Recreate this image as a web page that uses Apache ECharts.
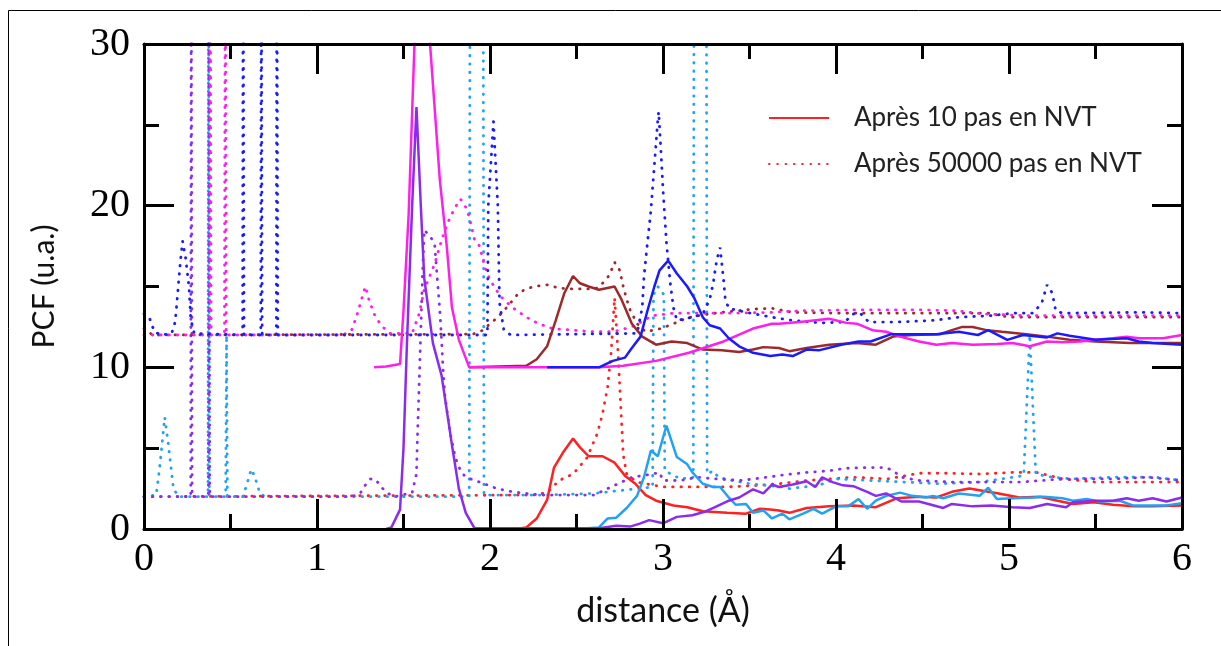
<!DOCTYPE html>
<html>
<head>
<meta charset="UTF-8">
<title>PCF</title>
<script type="text/javascript" src="https://cdn.jsdelivr.net/npm/echarts@6.0.0/dist/echarts.min.js"></script>
<style>
  html, body { margin: 0; padding: 0; background: #fff; }
  #main { width: 1221px; height: 646px; }
</style>
</head>
<body>
<div id="main"></div>
<script type="text/javascript">
// axes
var xTicks = [0, 1, 2, 3, 4, 5, 6];
var yTicks = [0, 10, 20, 30];
var legendNames = ['Après 10 pas en NVT', 'Après 50000 pas en NVT'];

// bas : apres 10 pas (traits pleins)
var red10 = [[2.15,0],[2.21,0.1],[2.27,0.65],[2.33,1.8],[2.37,3.8],[2.42,4.7],[2.48,5.6],[2.52,5.05],[2.57,4.5],[2.65,4.5],[2.72,4.1],[2.78,3.3],[2.84,2.8],[2.9,2.1],[2.96,1.75],[3.06,1.45],[3.14,1.35],[3.23,1.1],[3.37,1.0],[3.48,0.95],[3.56,1.25],[3.62,1.2],[3.67,1.15],[3.73,1.0],[3.83,1.3],[3.96,1.4],[4.1,1.45],[4.23,1.35],[4.35,1.9],[4.48,2.0],[4.58,1.95],[4.67,2.3],[4.77,2.5],[4.83,2.4],[4.94,2.2],[5.06,1.95],[5.18,2.0],[5.28,1.75],[5.37,1.55],[5.49,1.65],[5.6,1.5],[5.72,1.4],[5.83,1.4],[6,1.45]];
var cyan10 = [[2.5,0],[2.63,0.1],[2.68,0.65],[2.73,0.7],[2.79,1.3],[2.85,2.05],[2.89,3.2],[2.93,4.85],[2.97,4.5],[3.02,6.4],[3.08,4.45],[3.14,4.0],[3.17,3.5],[3.23,2.8],[3.29,2.6],[3.33,2.6],[3.38,1.95],[3.42,1.5],[3.48,1.55],[3.52,1.0],[3.58,1.15],[3.63,0.65],[3.69,0.95],[3.73,0.6],[3.81,0.95],[3.87,1.25],[3.92,0.95],[4.0,1.4],[4.07,1.4],[4.13,1.85],[4.18,1.25],[4.23,1.75],[4.29,2.05],[4.37,2.25],[4.44,2.05],[4.52,1.95],[4.56,2.05],[4.62,1.9],[4.71,2.2],[4.83,2.05],[4.88,2.55],[4.93,1.85],[5.02,1.9],[5.14,1.95],[5.2,2.0],[5.31,1.9],[5.37,1.75],[5.45,1.85],[5.52,1.7],[5.64,1.75],[5.72,1.45],[5.83,1.45],[5.91,1.45],[6,1.6]];
var violet10 = [[1.4,0],[1.43,0.1],[1.48,1.2],[1.5,5],[1.52,11.5],[1.55,20],[1.575,26.1],[1.6,20],[1.62,15.5],[1.67,11.5],[1.72,9.5],[1.78,5.2],[1.82,2.5],[1.86,1.0],[1.91,0.05],[2.63,0.05],[2.73,0.2],[2.81,0.15],[2.87,0.35],[2.92,0.55],[3.0,0.35],[3.08,0.75],[3.17,0.85],[3.25,1.1],[3.31,1.4],[3.38,1.75],[3.44,1.95],[3.52,2.45],[3.58,2.2],[3.63,2.75],[3.67,2.6],[3.75,2.75],[3.83,2.95],[3.88,2.6],[3.92,3.2],[3.98,2.9],[4.04,2.7],[4.1,2.65],[4.18,2.3],[4.23,2.05],[4.29,2.2],[4.38,1.7],[4.48,1.7],[4.62,1.3],[4.67,1.55],[4.79,1.4],[4.9,1.45],[5.02,1.35],[5.12,1.3],[5.22,1.55],[5.33,1.35],[5.37,1.65],[5.49,1.75],[5.6,1.75],[5.68,1.9],[5.75,1.75],[5.83,1.9],[5.91,1.7],[6,1.95]];

// haut : apres 10 pas (traits pleins, decales de 10)
var brown10 = [[1.88,10],[2.21,10.1],[2.27,10.5],[2.33,11.3],[2.38,12.9],[2.43,14.6],[2.48,15.65],[2.52,15.2],[2.57,15.0],[2.63,14.8],[2.72,15.0],[2.76,14.2],[2.82,12.7],[2.88,11.9],[2.96,11.4],[3.05,11.6],[3.14,11.5],[3.23,11.1],[3.34,11.05],[3.44,10.95],[3.52,11.1],[3.58,11.25],[3.67,11.2],[3.73,11.0],[3.83,11.2],[3.96,11.4],[4.12,11.5],[4.23,11.4],[4.33,11.9],[4.44,12.0],[4.6,12.05],[4.67,12.3],[4.73,12.5],[4.79,12.5],[4.87,12.3],[4.96,12.2],[5.1,12.05],[5.22,11.9],[5.35,11.7],[5.5,11.6],[5.7,11.5],[5.83,11.5],[6,11.5]];
var magenta10 = [[1.33,10],[1.4,10.05],[1.48,10.2],[1.5,13.5],[1.53,19.5],[1.565,30.5],[1.6,35],[1.65,30.5],[1.71,21.6],[1.75,17.5],[1.78,13.7],[1.82,11.7],[1.88,10],[2.2,10],[2.4,10],[2.63,10],[2.77,10.1],[2.96,10.4],[3.15,10.9],[3.35,11.6],[3.52,12.4],[3.63,12.7],[3.67,12.7],[3.79,12.8],[3.96,13.0],[4.06,12.75],[4.12,12.7],[4.21,12.3],[4.29,12.2],[4.37,11.9],[4.48,11.6],[4.58,11.4],[4.67,11.5],[4.79,11.4],[4.93,11.45],[5.02,11.5],[5.12,11.3],[5.22,11.6],[5.31,11.55],[5.41,11.6],[5.5,11.7],[5.6,11.8],[5.68,11.9],[5.75,11.8],[5.89,11.8],[6,12.0]];
var blue10 = [[2.33,10],[2.63,10.0],[2.71,10.4],[2.78,10.6],[2.82,11.2],[2.87,11.9],[2.91,13.5],[2.95,15.0],[2.98,16.0],[3.03,16.6],[3.08,15.8],[3.14,15.0],[3.18,14.3],[3.23,13.1],[3.27,12.6],[3.33,12.4],[3.38,11.8],[3.44,11.3],[3.52,10.9],[3.62,10.7],[3.69,10.8],[3.75,10.7],[3.83,11.1],[3.9,11.05],[4.03,11.4],[4.13,11.6],[4.2,11.6],[4.32,12.05],[4.45,12.05],[4.58,12.05],[4.71,12.2],[4.82,12.0],[4.88,12.3],[4.99,11.7],[5.08,12.0],[5.22,11.85],[5.28,12.1],[5.35,11.95],[5.5,11.7],[5.68,11.8],[5.75,11.6],[5.83,11.5],[6,11.4]];

// bas : apres 50000 pas (pointilles)
var red50k = [[0,2],[2.25,2.1],[2.33,2.25],[2.4,3.0],[2.48,3.4],[2.56,4.4],[2.62,5.9],[2.65,7.1],[2.68,8.8],[2.7,10.9],[2.72,14.3],[2.74,10.9],[2.75,8.8],[2.76,6.7],[2.77,4.6],[2.79,3.4],[2.85,2.9],[3.0,2.6],[3.14,2.6],[3.37,2.6],[3.55,2.7],[3.67,2.8],[3.83,3.0],[4.1,3.2],[4.3,3.1],[4.48,3.45],[4.64,3.45],[4.83,3.4],[5.02,3.5],[5.16,3.5],[5.31,3.1],[5.5,2.9],[5.7,2.9],[6,2.9]];
var cyan50k = [[0,2],[0.07,2.1],[0.09,3.75],[0.12,6.9],[0.14,5.3],[0.17,2.5],[0.2,2],[0.37,2],[0.373,40],[0.378,2],[0.472,2],[0.477,12],[0.482,2],[0.57,2],[0.59,2.6],[0.62,3.7],[0.64,3.25],[0.67,2.2],[0.7,2],[1.88,2],[1.885,40],[1.96,40],[1.965,2.1],[2.3,2.1],[2.6,2.2],[2.94,2.6],[2.945,14.5],[2.97,15],[3.005,14.5],[3.01,3.6],[3.1,3.1],[3.175,3.2],[3.18,40],[3.25,40],[3.255,3.4],[3.29,3.6],[3.32,3.2],[3.4,3.0],[3.5,2.8],[3.69,2.6],[3.73,2.5],[3.9,2.7],[4.0,3.1],[4.2,3.0],[4.4,2.9],[4.6,2.8],[4.83,2.9],[5.02,3.2],[5.085,3.3],[5.12,12],[5.155,3.4],[5.25,3.2],[5.37,3.1],[5.6,3.2],[5.85,3.2],[6,3.0]];
var violet50k = [[0,2],[0.27,2],[0.273,40],[0.278,2],[0.372,2],[0.375,40],[0.38,2],[1.2,2],[1.25,2.2],[1.27,2.6],[1.31,3.1],[1.34,3.05],[1.37,2.6],[1.41,2.2],[1.45,2],[1.55,2.25],[1.575,3.4],[1.58,5.5],[1.59,8.8],[1.6,12.3],[1.61,15.8],[1.62,18.5],[1.63,18.6],[1.66,18.0],[1.68,17.6],[1.69,16.2],[1.71,13.5],[1.72,11.7],[1.73,9.6],[1.74,8.2],[1.77,5.9],[1.8,4.4],[1.83,3.6],[1.86,3.2],[1.94,2.9],[2.04,2.5],[2.13,2.3],[2.21,2.2],[2.3,2.1],[2.6,2.1],[2.7,2.6],[2.82,3.2],[2.94,3.4],[2.98,3.5],[3.0,3.0],[3.1,3.0],[3.2,3.2],[3.3,3.1],[3.45,3.0],[3.6,3.2],[3.7,3.35],[3.83,3.5],[3.96,3.6],[4.05,3.75],[4.18,3.8],[4.29,3.8],[4.33,3.6],[4.38,3.2],[4.48,3.0],[4.68,2.9],[4.88,2.9],[5.06,2.9],[5.25,3.05],[5.37,3.1],[5.6,3.1],[5.8,3.2],[6,3.0]];

// haut : apres 50000 pas (pointilles)
var magenta50k = [[0,12],[0.38,12],[0.383,40],[0.388,12],[0.465,12],[0.47,40],[0.475,12],[1.15,12],[1.2,12.3],[1.23,13.2],[1.26,14.3],[1.28,15],[1.3,14.2],[1.33,13.3],[1.37,12.6],[1.42,12.1],[1.55,12.1],[1.59,13.3],[1.62,14.8],[1.68,16.4],[1.71,17.5],[1.74,18.5],[1.77,19.3],[1.81,20.1],[1.83,20.4],[1.86,19.9],[1.88,19.3],[1.91,17.9],[1.94,17.5],[1.97,16.2],[2.0,15.4],[2.06,14.4],[2.13,13.7],[2.21,13.1],[2.28,12.7],[2.36,12.4],[2.48,12.3],[2.6,12.2],[2.71,12.2],[2.82,12.5],[2.94,13.2],[3.06,13.35],[3.17,13.35],[3.4,13.35],[3.63,13.4],[3.8,13.5],[4.1,13.55],[4.5,13.55],[4.7,13.5],[4.85,13.3],[5.1,13.2],[5.5,13.2],[6,13.2]];
var brown50k = [[0,12.4],[0.05,12],[1.9,12.05],[1.96,12.3],[2.0,12.7],[2.04,13.05],[2.08,13.5],[2.12,14.0],[2.17,14.65],[2.25,15.0],[2.33,15.1],[2.4,14.9],[2.48,14.85],[2.56,14.85],[2.62,14.9],[2.66,15.3],[2.69,15.7],[2.72,16.5],[2.75,16.0],[2.77,15.0],[2.79,14.2],[2.81,13.55],[2.85,12.7],[2.9,12.2],[2.99,12.4],[3.06,12.7],[3.14,13.05],[3.23,13.25],[3.34,13.4],[3.52,13.6],[3.63,13.65],[3.75,13.4],[4.0,13.35],[4.4,13.35],[4.88,13.35],[5.0,13.1],[5.5,13.1],[6,13.1]];
var blue50k = [[0,13.3],[0.03,13.1],[0.06,12.2],[0.1,12],[0.16,12.1],[0.18,12.8],[0.19,14],[0.21,16.5],[0.223,17.8],[0.24,16.8],[0.26,15],[0.27,13],[0.29,12.1],[0.57,12],[0.573,40],[0.578,12],[0.675,12],[0.678,40],[0.683,12],[0.765,12],[0.768,40],[0.773,12],[1.985,12],[1.99,20],[2.02,25.2],[2.045,20],[2.055,14],[2.08,12.3],[2.12,12],[2.85,12.1],[2.88,13.7],[2.89,15.6],[2.91,17.7],[2.93,19.7],[2.95,22.5],[2.97,25.3],[2.975,25.8],[2.99,23.0],[3.0,21],[3.02,17.7],[3.04,15.4],[3.06,13.7],[3.08,12.9],[3.17,13.1],[3.23,13.3],[3.27,14.2],[3.29,15.2],[3.31,16.6],[3.33,17.4],[3.35,15.4],[3.36,14.2],[3.38,13.65],[3.48,13.4],[3.63,13.1],[3.75,12.9],[3.92,12.75],[4.05,12.8],[4.1,13.3],[4.14,13.35],[4.19,12.8],[4.35,12.8],[4.56,12.9],[4.71,13.1],[4.9,13.2],[5.02,13.35],[5.14,13.35],[5.19,14.0],[5.22,15.1],[5.25,14.6],[5.27,13.5],[5.31,13.35],[5.77,13.4],[6,13.35]];

var RED = '#ff2020', CYAN = '#22a2f2', VIOLET = '#8a2cf0';
var MAGENTA = '#ff1fe8', BROWN = '#9c2a2a', BLUE = '#1a1aff';

function solid(name, color, data) {
	return { name: name, type: 'line', data: data, symbol: 'none', showSymbol: false,
		lineStyle: { color: color, width: 2.5 }, itemStyle: { color: color }, z: 3 };
}
function dotted(name, color, data) {
	return { name: name, type: 'line', data: data, symbol: 'none', showSymbol: false,
		lineStyle: { color: color, width: 2.8, type: [0.5, 7.8], cap: 'round' }, itemStyle: { color: color }, z: 2 };
}

function xAxisDef(pos, labels) {
	return {
		type: 'value', position: pos, min: 0, max: 6, interval: 1, z: 5,
		axisLine: { show: true, onZero: false, lineStyle: { color: '#000', width: 3 } },
		axisTick: { show: true, inside: true, length: 30, lineStyle: { color: '#000', width: 3 } },
		minorTick: { show: true, splitNumber: 2, length: 15, lineStyle: { color: '#000', width: 3 } },
		splitLine: { show: false },
		axisLabel: { show: labels, margin: 10, color: '#000', fontFamily: 'Liberation Serif', fontSize: 40,
			formatter: function (v) { return xTicks.indexOf(v) >= 0 ? String(v) : ''; } },
		name: labels ? 'distance (Å)' : '', nameLocation: 'middle', nameGap: 65,
		nameTextStyle: { fontFamily: 'Lato', fontSize: 34, color: '#111' }
	};
}
function yAxisDef(pos, labels) {
	return {
		type: 'value', position: pos, min: 0, max: 30, interval: 10, z: 5,
		axisLine: { show: true, onZero: false, lineStyle: { color: '#000', width: 3 } },
		axisTick: { show: true, inside: true, length: 30, lineStyle: { color: '#000', width: 3 } },
		minorTick: { show: true, splitNumber: 2, length: 15, lineStyle: { color: '#000', width: 3 } },
		splitLine: { show: false },
		axisLabel: { show: labels, margin: 14, color: '#000', fontFamily: 'Liberation Serif', fontSize: 40,
			formatter: function (v) { return yTicks.indexOf(v) >= 0 ? String(v) : ''; } },
		name: labels ? 'PCF (u.a.)' : '', nameLocation: 'middle', nameGap: 85, nameRotate: 90,
		nameTextStyle: { fontFamily: 'Lato', fontSize: 30, color: '#111' }
	};
}

var chart = echarts.init(document.getElementById('main'));
var option = {
	animation: false,
	backgroundColor: '#fff',
	grid: { left: 144, right: 39, top: 44, bottom: 117 },
	graphic: [{
		type: 'rect', silent: true, z: 0,
		shape: { x: 8.5, y: 10.5, width: 1240, height: 660 },
		style: { fill: 'none', stroke: '#000', lineWidth: 1 }
	}],
	legend: {
		data: legendNames, orient: 'vertical', left: 763, top: 100,
		itemWidth: 60, itemHeight: 20, itemGap: 20,
		itemStyle: { opacity: 0 },
		textStyle: { fontFamily: 'Lato', fontSize: 26, color: '#222', padding: [0, 0, 0, 20] }
	},
	xAxis: [xAxisDef('bottom', true), xAxisDef('top', false)],
	yAxis: [yAxisDef('left', true), yAxisDef('right', false)],
	series: [
		dotted(legendNames[1], RED, red50k),
		dotted('cyan50k', CYAN, cyan50k),
		dotted('violet50k', VIOLET, violet50k),
		dotted('brown50k', BROWN, brown50k),
		dotted('magenta50k', MAGENTA, magenta50k),
		dotted('blue50k', BLUE, blue50k),
		solid(legendNames[0], RED, red10),
		solid('cyan10', CYAN, cyan10),
		solid('violet10', VIOLET, violet10),
		solid('brown10', BROWN, brown10),
		solid('magenta10', MAGENTA, magenta10),
		solid('blue10', BLUE, blue10)
	]
};
chart.setOption(option);
</script>
</body>
</html>
